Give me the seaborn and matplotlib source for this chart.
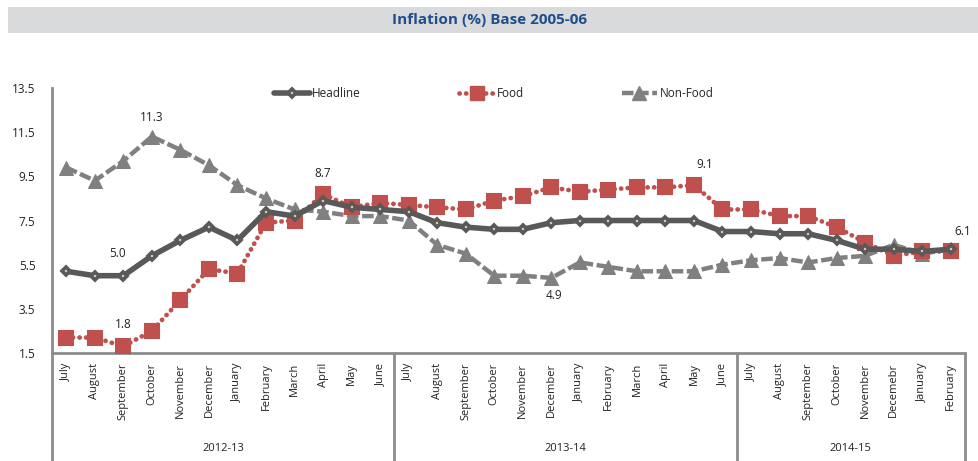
import matplotlib
matplotlib.use("Agg")
import matplotlib.pyplot as plt
import matplotlib.transforms as mtransforms
from matplotlib.lines import Line2D
from matplotlib.patches import Rectangle
import seaborn as sns
import numpy as np

sns.set_style("white")
plt.rcParams["font.family"] = ["Open Sans", "DejaVu Sans"]

months = ["July", "August", "September", "October", "November", "December",
          "January", "February", "March", "April", "May", "June",
          "July", "August", "September", "October", "November", "December",
          "January", "February", "March", "April", "May", "June",
          "July", "August", "September", "October", "November", "Decemebr",
          "January", "February"]
fiscal_years = ["2012-13", "2013-14", "2014-15"]
year_lengths = [12, 12, 8]

headline = [5.2, 5.0, 5.0, 5.9, 6.6, 7.2, 6.6, 7.9, 7.7, 8.4, 8.1, 8.0,
            7.9, 7.4, 7.2, 7.1, 7.1, 7.4, 7.5, 7.5, 7.5, 7.5, 7.5, 7.0,
            7.0, 6.9, 6.9, 6.6, 6.2, 6.2, 6.1, 6.2]
food = [2.2, 2.2, 1.8, 2.5, 3.9, 5.3, 5.1, 7.4, 7.5, 8.7, 8.1, 8.3,
        8.2, 8.1, 8.0, 8.4, 8.6, 9.0, 8.8, 8.9, 9.0, 9.0, 9.1, 8.0,
        8.0, 7.7, 7.7, 7.2, 6.5, 5.9, 6.1, 6.1]
non_food = [9.9, 9.3, 10.2, 11.3, 10.7, 10.0, 9.1, 8.5, 8.0, 7.9, 7.7, 7.7,
            7.5, 6.4, 6.0, 5.0, 5.0, 4.9, 5.6, 5.4, 5.2, 5.2, 5.2, 5.5,
            5.7, 5.8, 5.6, 5.8, 5.9, 6.4, 6.0, 6.2]

HEAD_C = "#595959"
FOOD_C = "#C0504D"
NONF_C = "#808080"
AXIS_C = "#8C8C8C"
DOTS = (0, (0.05, 1.35))
DASH = (0, (2.6, 0.8))

x = np.arange(len(months))

fig = plt.figure(figsize=(9.79, 4.61), dpi=100)
ax = fig.add_axes([52 / 979, 1 - 353 / 461, (965 - 52) / 979, 265 / 461])

# title bar
fig.patches.append(Rectangle((8 / 979, 1 - 33 / 461), 1 - 8 / 979, 26 / 461,
                             transform=fig.transFigure, facecolor="#D9DADC",
                             edgecolor="none", zorder=0))
fig.text(490 / 979, 1 - 20 / 461, "Inflation (%) Base 2005-06", ha="center",
         va="center", fontsize=11, fontweight="bold", color="#1F4E8C")

sns.lineplot(x=x, y=non_food, ax=ax, color=NONF_C, linewidth=3.2,
             linestyle=DASH, marker="^", markersize=10,
             markeredgecolor=NONF_C, markerfacecolor=NONF_C, zorder=2)
sns.lineplot(x=x, y=food, ax=ax, color=FOOD_C, linewidth=3.4,
             linestyle=DOTS, dash_capstyle="round", marker="s",
             markersize=9.5, markeredgecolor=FOOD_C, markerfacecolor=FOOD_C,
             markeredgewidth=1.5, zorder=3)
sns.lineplot(x=x, y=headline, ax=ax, color=HEAD_C, linewidth=4,
             marker="D", markersize=4.5, markeredgewidth=2.6,
             markeredgecolor=HEAD_C, markerfacecolor="#FAD7B0", zorder=4)

# data labels
labels = [
    (3, non_food[3], "11.3", (0, 9)),
    (2, headline[2], "5.0", (-4, 11)),
    (2, food[2], "1.8", (0, 11)),
    (9, food[9], "8.7", (0, 10)),
    (22, food[22], "9.1", (8, 10)),
    (17, non_food[17], "4.9", (2, -17)),
    (31, food[31], "6.1", (9, 10)),
]
for xi, yi, txt, off in labels:
    ax.annotate(txt, (xi, yi), xytext=off, textcoords="offset points",
                ha="center", va="bottom", fontsize=8.5, color="#222222")

ax.set_xlim(-0.5, len(months) - 0.5)
ax.set_ylim(1.5, 13.5)
ax.set_yticks(np.arange(1.5, 13.6, 2))
ax.set_yticklabels([f"{v:.1f}" for v in np.arange(1.5, 13.6, 2)])
ax.tick_params(axis="y", length=0, labelsize=8.5, pad=12, labelcolor="#222222")
ax.set_xticks(x)
ax.set_xticklabels(months, rotation=90, fontsize=8, color="#222222")
ax.tick_params(axis="x", length=0, pad=7)
ax.set_xlabel("")
ax.set_ylabel("")

for side in ["top", "right"]:
    ax.spines[side].set_visible(False)
for side in ["left", "bottom"]:
    ax.spines[side].set_color(AXIS_C)
    ax.spines[side].set_linewidth(2)

# fiscal-year grouping
trans = mtransforms.blended_transform_factory(ax.transData, ax.transAxes)
bottom = -(461 - 353) / 265
start = 0
bounds = [-0.5]
for name, n in zip(fiscal_years, year_lengths):
    ax.text(start + (n - 1) / 2, -(448 - 353) / 265, name, transform=trans,
            ha="center", va="center", fontsize=8, color="#222222")
    start += n
    bounds.append(start - 0.5)
for b in bounds:
    ax.plot([b, b], [0, bottom], transform=trans, color=AXIS_C, lw=2,
            clip_on=False)

handles = [
    Line2D([], [], color=HEAD_C, lw=4, marker="D", markersize=4.5,
           markeredgewidth=2.6, markeredgecolor=HEAD_C, markerfacecolor="#FAD7B0"),
    Line2D([], [], color=FOOD_C, lw=3.4, linestyle=DOTS,
           dash_capstyle="round", marker="s", markersize=9.5),
    Line2D([], [], color=NONF_C, lw=3.2, linestyle=DASH,
           marker="^", markersize=10),
]
ax.legend(handles, ["Headline", "Food", "Non-Food"], loc="upper center",
          bbox_to_anchor=(0.484, 1.045), ncol=3, frameon=False, fontsize=8.5,
          handlelength=3.0, handletextpad=0.2, columnspacing=8.3)

fig.savefig("out.png", dpi=100)
